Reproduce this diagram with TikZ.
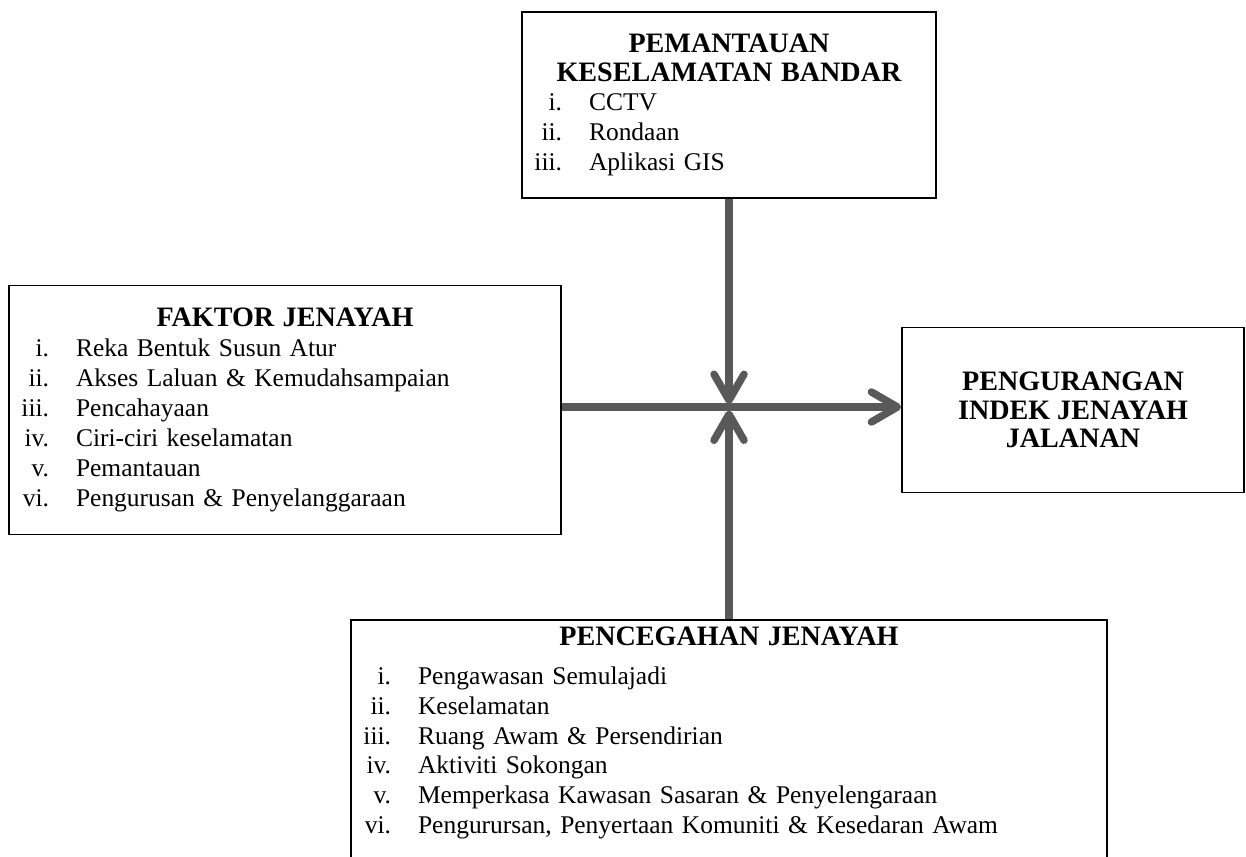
\documentclass[tikz,border=0pt]{standalone}
\usepackage{fontspec}
\setmainfont{Liberation Serif}
\usepackage{xcolor}
\usepackage{tikz}
\usetikzlibrary{arrows.meta}

\definecolor{anakpanah}{RGB}{89,89,89}
\newcommand{\tajuk}[1]{{\centering\bfseries\fontsize{16}{16.3}\selectfont #1\par}}
\newcommand{\butir}[2]{\makebox[0.7cm][r]{#1}\hspace{0.54cm}#2\par}

\begin{document}
\begin{tikzpicture}[x=0.02cm, y=-0.02cm, >={Straight Barb[length=0.52cm, width=0.6cm, round]},
    kotak/.style={draw, rectangle, line width=1pt, inner xsep=0.1cm, align=left, font=\fontsize{14.5}{17}\selectfont},
    sasaran/.style={draw, rectangle, line width=1pt, align=center, font=\bfseries\fontsize{16}{16.3}\selectfont},
    aliran/.style={draw=anakpanah, line width=0.15cm, ->}]

    \clip (0,0) rectangle (1246,857);

    % Nodes
    \node (pmt) [kotak, minimum width=8.28cm, minimum height=3.72cm, text width=8.08cm] at (729,105)
        {\tajuk{PEMANTAUAN\\KESELAMATAN BANDAR}\butir{i.}{CCTV}\butir{ii.}{Rondaan}\butir{iii.}{Aplikasi GIS}};
    \node (fkt) [kotak, minimum width=11.04cm, minimum height=4.98cm, text width=10.84cm] at (285,410)
        {\tajuk{FAKTOR JENAYAH}\butir{i.}{Reka Bentuk Susun Atur}\butir{ii.}{Akses Laluan \& Kemudahsampaian}%
         \butir{iii.}{Pencahayaan}\butir{iv.}{Ciri-ciri keselamatan}\butir{v.}{Pemantauan}%
         \butir{vi.}{Pengurusan \& Penyelanggaraan}};
    \node (pij) [sasaran, minimum width=6.84cm, minimum height=3.3cm] at (1073,410)
        {PENGURANGAN\\INDEK JENAYAH\\JALANAN};
    \node (pcg) [kotak, anchor=north, text width=14.92cm, inner ysep=0.14cm] at (729,619)
        {\tajuk{PENCEGAHAN JENAYAH}\vspace{0.18cm}\butir{i.}{Pengawasan Semulajadi}\butir{ii.}{Keselamatan}%
         \butir{iii.}{Ruang Awam \& Persendirian}\butir{iv.}{Aktiviti Sokongan}%
         \butir{v.}{Memperkasa Kawasan Sasaran \& Penyelengaraan}%
         \butir{vi.}{Pengurursan, Penyertaan Komuniti \& Kesedaran Awam}\vspace{1cm}\mbox{}};
    \coordinate (hub) at (729,407);

    % Links
    \draw[aliran] (fkt.east |- hub) -- (pij.west |- hub);
    \draw[aliran, shorten >=0.06cm] (pmt) -- (hub);
    \draw[aliran, shorten >=0.07cm] (pcg) -- (hub);
\end{tikzpicture}
\end{document}
